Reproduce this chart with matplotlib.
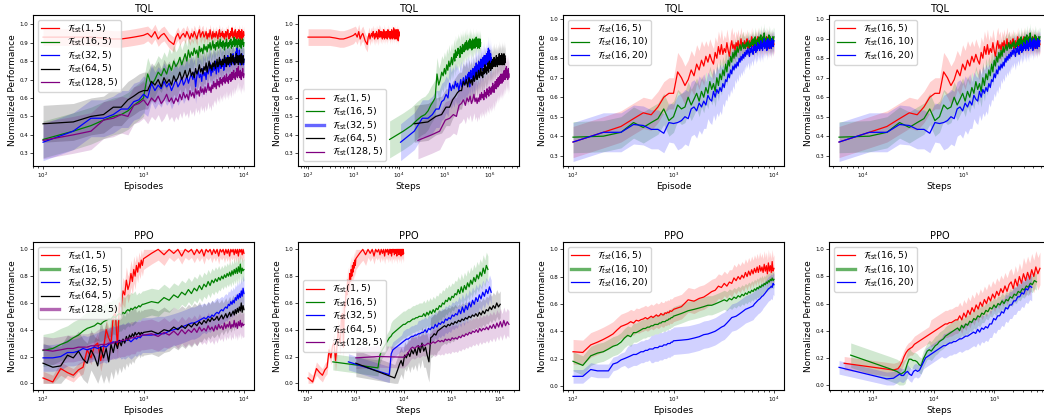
import numpy as np
import matplotlib.pyplot as plt

# evaluation grids (episodes)
ep_tql = np.arange(100, 10001, 100)
ep_ppo = np.concatenate([np.arange(100, 1001, 25), np.arange(1200, 10001, 200)])

# ---------------- TQL, test-set size sweep (episodes) ----------------
tql_r1 = [
    0.93, 0.93, 0.93, 0.925, 0.92, 0.92, 0.925, 0.93, 0.935, 0.94,
    0.95, 0.93, 0.96, 0.92, 0.94, 0.95, 0.93, 0.91, 0.90, 0.89,
    0.93, 0.95, 0.92, 0.94, 0.95, 0.93, 0.96, 0.94, 0.92, 0.95,
    0.93, 0.96, 0.94, 0.92, 0.95, 0.97, 0.93, 0.95, 0.96, 0.93,
    0.94, 0.96, 0.92, 0.95, 0.93, 0.97, 0.94, 0.92, 0.96, 0.93,
    0.95, 0.93, 0.96, 0.94, 0.92, 0.95, 0.97, 0.93, 0.95, 0.94,
    0.96, 0.93, 0.95, 0.92, 0.94, 0.96, 0.93, 0.95, 0.97, 0.94,
    0.92, 0.95, 0.93, 0.96, 0.94, 0.98, 0.93, 0.95, 0.92, 0.96,
    0.94, 0.97, 0.93, 0.95, 0.92, 0.96, 0.94, 0.93, 0.97, 0.95,
    0.92, 0.96, 0.94, 0.93, 0.97, 0.91, 0.95, 0.93, 0.96, 0.94]
tql_g16 = [
    0.375, 0.42, 0.45, 0.48, 0.50, 0.51, 0.53, 0.56, 0.58, 0.60,
    0.73, 0.67, 0.70, 0.74, 0.72, 0.76, 0.73, 0.78, 0.75, 0.80,
    0.77, 0.79, 0.82, 0.78, 0.81, 0.84, 0.80, 0.86, 0.82, 0.85,
    0.83, 0.87, 0.84, 0.86, 0.82, 0.88, 0.85, 0.87, 0.84, 0.89,
    0.86, 0.88, 0.85, 0.89, 0.87, 0.90, 0.86, 0.88, 0.91, 0.87,
    0.89, 0.86, 0.90, 0.88, 0.91, 0.87, 0.89, 0.92, 0.88, 0.90,
    0.87, 0.91, 0.89, 0.86, 0.90, 0.88, 0.92, 0.89, 0.87, 0.90,
    0.88, 0.91, 0.89, 0.92, 0.87, 0.90, 0.88, 0.91, 0.89, 0.93,
    0.88, 0.90, 0.92, 0.89, 0.91, 0.87, 0.90, 0.92, 0.89, 0.91,
    0.88, 0.92, 0.90, 0.87, 0.91, 0.89, 0.92, 0.90, 0.88, 0.90]
tql_b32 = [
    0.36, 0.42, 0.49, 0.49, 0.51, 0.54, 0.54, 0.58, 0.59, 0.62,
    0.60, 0.68, 0.64, 0.67, 0.65, 0.69, 0.66, 0.68, 0.64, 0.67,
    0.70, 0.66, 0.68, 0.71, 0.67, 0.69, 0.72, 0.68, 0.71, 0.73,
    0.70, 0.74, 0.66, 0.72, 0.75, 0.71, 0.73, 0.69, 0.76, 0.72,
    0.74, 0.70, 0.77, 0.73, 0.75, 0.79, 0.72, 0.76, 0.74, 0.78,
    0.75, 0.80, 0.73, 0.77, 0.79, 0.74, 0.78, 0.81, 0.76, 0.79,
    0.77, 0.81, 0.75, 0.79, 0.82, 0.77, 0.80, 0.78, 0.83, 0.79,
    0.81, 0.77, 0.80, 0.83, 0.78, 0.82, 0.79, 0.84, 0.80, 0.78,
    0.82, 0.79, 0.85, 0.81, 0.87, 0.80, 0.83, 0.79, 0.82, 0.86,
    0.81, 0.78, 0.83, 0.80, 0.84, 0.79, 0.82, 0.80, 0.78, 0.81]
tql_k64 = [
    0.46, 0.47, 0.50, 0.51, 0.55, 0.55, 0.59, 0.61, 0.63, 0.64,
    0.64, 0.69, 0.67, 0.70, 0.66, 0.71, 0.68, 0.70, 0.67, 0.72,
    0.69, 0.71, 0.74, 0.70, 0.72, 0.75, 0.71, 0.73, 0.76, 0.72,
    0.74, 0.71, 0.76, 0.73, 0.75, 0.78, 0.74, 0.76, 0.73, 0.77,
    0.75, 0.79, 0.74, 0.77, 0.80, 0.76, 0.78, 0.75, 0.79, 0.77,
    0.80, 0.76, 0.78, 0.81, 0.77, 0.79, 0.82, 0.78, 0.80, 0.77,
    0.81, 0.78, 0.80, 0.83, 0.79, 0.81, 0.77, 0.82, 0.80, 0.78,
    0.82, 0.79, 0.81, 0.84, 0.78, 0.82, 0.80, 0.83, 0.79, 0.81,
    0.78, 0.82, 0.80, 0.84, 0.79, 0.81, 0.83, 0.78, 0.82, 0.80,
    0.83, 0.79, 0.81, 0.84, 0.78, 0.82, 0.80, 0.83, 0.79, 0.81]
tql_p128 = [
    0.37, 0.40, 0.42, 0.48, 0.49, 0.51, 0.50, 0.56, 0.57, 0.59,
    0.56, 0.60, 0.58, 0.61, 0.57, 0.59, 0.62, 0.58, 0.60, 0.57,
    0.60, 0.58, 0.62, 0.59, 0.63, 0.60, 0.62, 0.59, 0.64, 0.61,
    0.63, 0.60, 0.65, 0.62, 0.64, 0.61, 0.66, 0.63, 0.65, 0.62,
    0.66, 0.63, 0.65, 0.68, 0.64, 0.66, 0.63, 0.67, 0.65, 0.69,
    0.66, 0.68, 0.65, 0.70, 0.67, 0.69, 0.66, 0.71, 0.68, 0.70,
    0.67, 0.71, 0.69, 0.72, 0.68, 0.70, 0.73, 0.69, 0.71, 0.68,
    0.72, 0.70, 0.73, 0.69, 0.71, 0.74, 0.70, 0.72, 0.75, 0.71,
    0.73, 0.70, 0.74, 0.72, 0.76, 0.71, 0.73, 0.77, 0.72, 0.74,
    0.71, 0.75, 0.73, 0.70, 0.74, 0.72, 0.76, 0.73, 0.71, 0.73]
tql_size_sd = [
    [0.045, 0.04, 0.035, 0.035, 0.03, 0.03, 0.03, 0.03, 0.03, 0.03],
    [0.10, 0.09, 0.08, 0.08, 0.07, 0.06, 0.06, 0.05, 0.05, 0.05],
    [0.10, 0.10, 0.10, 0.09, 0.09, 0.08, 0.08, 0.07, 0.07, 0.07],
    [0.10, 0.10, 0.09, 0.09, 0.08, 0.08, 0.07, 0.07, 0.07, 0.07],
    [0.10, 0.10, 0.10, 0.10, 0.10, 0.09, 0.09, 0.09, 0.08, 0.08]]
size_labels = [(1, 5), (16, 5), (32, 5), (64, 5), (128, 5)]
size_steps_per_ep = [1, 62, 108, 215, 260]

# ---------------- TQL, episode-length sweep ----------------
tql_l5 = [
    0.37, 0.42, 0.45, 0.49, 0.52, 0.51, 0.55, 0.60, 0.62, 0.62,
    0.73, 0.70, 0.66, 0.69, 0.74, 0.71, 0.77, 0.74, 0.79, 0.76,
    0.81, 0.78, 0.82, 0.79, 0.77, 0.83, 0.80, 0.86, 0.82, 0.87,
    0.82, 0.85, 0.83, 0.88, 0.84, 0.81, 0.86, 0.89, 0.85, 0.87,
    0.84, 0.88, 0.86, 0.89, 0.85, 0.87, 0.90, 0.86, 0.88, 0.85,
    0.89, 0.86, 0.88, 0.90, 0.85, 0.87, 0.89, 0.86, 0.88, 0.91,
    0.86, 0.88, 0.85, 0.89, 0.87, 0.90, 0.86, 0.88, 0.91, 0.87,
    0.89, 0.86, 0.90, 0.88, 0.85, 0.89, 0.87, 0.91, 0.88, 0.86,
    0.90, 0.87, 0.89, 0.86, 0.91, 0.88, 0.85, 0.89, 0.87, 0.90,
    0.86, 0.89, 0.88, 0.85, 0.90, 0.87, 0.89, 0.86, 0.88, 0.87]
tql_l10 = [
    0.395, 0.40, 0.42, 0.47, 0.445, 0.47, 0.49, 0.54, 0.48, 0.50,
    0.56, 0.54, 0.55, 0.60, 0.56, 0.59, 0.62, 0.58, 0.63, 0.60,
    0.65, 0.62, 0.68, 0.64, 0.67, 0.63, 0.70, 0.66, 0.72, 0.69,
    0.74, 0.71, 0.77, 0.73, 0.79, 0.76, 0.81, 0.78, 0.83, 0.80,
    0.84, 0.81, 0.86, 0.83, 0.85, 0.87, 0.84, 0.86, 0.88, 0.85,
    0.87, 0.85, 0.88, 0.86, 0.89, 0.87, 0.85, 0.88, 0.86, 0.89,
    0.87, 0.90, 0.86, 0.88, 0.91, 0.87, 0.89, 0.86, 0.90, 0.88,
    0.91, 0.87, 0.89, 0.92, 0.88, 0.90, 0.87, 0.91, 0.89, 0.93,
    0.88, 0.90, 0.87, 0.91, 0.89, 0.86, 0.90, 0.88, 0.92, 0.89,
    0.87, 0.91, 0.88, 0.90, 0.86, 0.89, 0.91, 0.88, 0.90, 0.91]
tql_l20 = [
    0.37, 0.42, 0.42, 0.46, 0.455, 0.435, 0.435, 0.415, 0.47, 0.465,
    0.47, 0.48, 0.50, 0.49, 0.54, 0.55, 0.53, 0.57, 0.55, 0.58,
    0.56, 0.61, 0.59, 0.58, 0.63, 0.60, 0.64, 0.62, 0.65, 0.63,
    0.67, 0.65, 0.69, 0.68, 0.72, 0.70, 0.74, 0.72, 0.76, 0.74,
    0.77, 0.75, 0.78, 0.76, 0.80, 0.78, 0.81, 0.79, 0.82, 0.80,
    0.83, 0.81, 0.84, 0.82, 0.85, 0.83, 0.81, 0.85, 0.83, 0.86,
    0.84, 0.82, 0.86, 0.84, 0.87, 0.83, 0.86, 0.84, 0.88, 0.85,
    0.87, 0.84, 0.86, 0.89, 0.85, 0.87, 0.84, 0.88, 0.86, 0.90,
    0.85, 0.88, 0.86, 0.89, 0.84, 0.87, 0.90, 0.86, 0.88, 0.85,
    0.89, 0.86, 0.88, 0.85, 0.90, 0.87, 0.89, 0.86, 0.88, 0.89]
tql_len_sd = [
    [0.08, 0.10, 0.08, 0.07, 0.06, 0.05, 0.05, 0.05, 0.05, 0.05],
    [0.08, 0.08, 0.08, 0.07, 0.06, 0.05, 0.05, 0.05, 0.05, 0.05],
    [0.10, 0.14, 0.12, 0.10, 0.08, 0.07, 0.06, 0.06, 0.05, 0.05]]
len_labels = [(16, 5), (16, 10), (16, 20)]
len_steps_per_ep = 58

# ---------------- PPO, test-set size sweep (episodes) ----------------
ppo_r1 = [
    0.04, 0.01, 0.11, 0.08, 0.06, 0.10, 0.12, 0.25, 0.19, 0.28, 0.30, 0.17, 0.26,
    0.40, 0.34, 0.30, 0.50, 0.52, 0.27, 0.60, 0.57, 0.69, 0.66, 0.77, 0.70, 0.74,
    0.82, 0.76, 0.85, 0.80, 0.88, 0.83, 0.90, 0.86, 0.92, 0.88, 0.93,
    0.97, 1.0, 0.96, 1.0, 0.97, 1.0, 0.95, 1.0, 0.98, 1.0, 0.96, 1.0, 0.97, 1.0, 0.95,
    1.0, 0.98, 1.0, 0.96, 1.0, 0.97, 1.0, 0.95, 1.0, 0.98, 1.0, 0.96, 1.0, 0.97, 1.0,
    0.95, 1.0, 0.98, 1.0, 0.96, 1.0, 0.97, 1.0, 0.95, 1.0, 0.98, 1.0, 0.96, 1.0, 0.97]
ppo_g16 = [
    0.245, 0.26, 0.29, 0.31, 0.34, 0.36, 0.39, 0.41, 0.42, 0.43, 0.45, 0.44, 0.46,
    0.47, 0.48, 0.48, 0.50, 0.49, 0.51, 0.52, 0.51, 0.53, 0.52, 0.54, 0.55, 0.54,
    0.56, 0.55, 0.56, 0.57, 0.56, 0.57, 0.58, 0.57, 0.58, 0.59, 0.59,
    0.61, 0.60, 0.64, 0.62, 0.66, 0.64, 0.68, 0.66, 0.70, 0.67, 0.71, 0.69, 0.73,
    0.70, 0.74, 0.72, 0.76, 0.73, 0.77, 0.75, 0.78, 0.76, 0.79, 0.77, 0.80, 0.78,
    0.81, 0.79, 0.82, 0.80, 0.83, 0.80, 0.84, 0.81, 0.85, 0.82, 0.86, 0.82, 0.87,
    0.83, 0.89, 0.82, 0.86, 0.84, 0.85]
ppo_b32 = [
    0.19, 0.19, 0.20, 0.23, 0.23, 0.24, 0.26, 0.25, 0.26, 0.27, 0.26, 0.27, 0.28,
    0.27, 0.29, 0.30, 0.31, 0.30, 0.31, 0.32, 0.31, 0.32, 0.31, 0.32, 0.33, 0.32,
    0.31, 0.32, 0.33, 0.34, 0.33, 0.34, 0.35, 0.34, 0.35, 0.36, 0.36,
    0.36, 0.37, 0.37, 0.39, 0.40, 0.41, 0.42, 0.43, 0.44, 0.45, 0.45, 0.46, 0.47,
    0.48, 0.49, 0.48, 0.50, 0.49, 0.51, 0.50, 0.52, 0.53, 0.52, 0.54, 0.55, 0.54,
    0.56, 0.57, 0.56, 0.59, 0.58, 0.61, 0.59, 0.62, 0.60, 0.64, 0.62, 0.66, 0.63,
    0.67, 0.64, 0.69, 0.65, 0.71, 0.67]
ppo_k64 = [
    0.15, 0.12, 0.13, 0.21, 0.19, 0.24, 0.18, 0.15, 0.25, 0.20, 0.13, 0.27, 0.19,
    0.26, 0.16, 0.29, 0.23, 0.31, 0.26, 0.32, 0.28, 0.33, 0.30, 0.35, 0.32, 0.36,
    0.34, 0.37, 0.35, 0.38, 0.36, 0.37, 0.38, 0.36, 0.38, 0.37, 0.38,
    0.39, 0.37, 0.40, 0.39, 0.42, 0.40, 0.43, 0.41, 0.44, 0.42, 0.45, 0.43, 0.46,
    0.44, 0.47, 0.45, 0.48, 0.46, 0.49, 0.47, 0.48, 0.50, 0.47, 0.49, 0.51, 0.48,
    0.50, 0.52, 0.49, 0.51, 0.53, 0.50, 0.52, 0.54, 0.51, 0.55, 0.52, 0.56, 0.53,
    0.57, 0.54, 0.60, 0.53, 0.58, 0.55]
ppo_p128 = [
    0.25, 0.24, 0.25, 0.26, 0.26, 0.27, 0.27, 0.27, 0.28, 0.28, 0.28, 0.29, 0.29,
    0.29, 0.30, 0.30, 0.30, 0.31, 0.31, 0.31, 0.32, 0.32, 0.32, 0.33, 0.33, 0.33,
    0.34, 0.34, 0.34, 0.34, 0.35, 0.35, 0.35, 0.35, 0.36, 0.36, 0.36,
    0.37, 0.35, 0.38, 0.36, 0.39, 0.36, 0.40, 0.37, 0.40, 0.38, 0.41, 0.38, 0.42,
    0.39, 0.41, 0.39, 0.43, 0.40, 0.42, 0.39, 0.43, 0.40, 0.44, 0.41, 0.43, 0.40,
    0.45, 0.41, 0.44, 0.42, 0.46, 0.41, 0.44, 0.42, 0.47, 0.42, 0.45, 0.41, 0.46,
    0.43, 0.47, 0.42, 0.45, 0.43, 0.44]
ppo_size_sd = [
    [0.05, 0.08, 0.10, 0.08, 0.06, 0.06, 0.06, 0.06, 0.06],
    [0.12, 0.13, 0.12, 0.10, 0.09, 0.09, 0.08, 0.08, 0.08],
    [0.10, 0.12, 0.13, 0.13, 0.12, 0.11, 0.10, 0.10, 0.10],
    [0.15, 0.20, 0.20, 0.17, 0.15, 0.13, 0.12, 0.12, 0.12],
    [0.10, 0.12, 0.12, 0.11, 0.10, 0.10, 0.09, 0.09, 0.09]]

# ---------------- PPO, test-set size sweep (steps) ----------------
# the (1,5) curve is shared with the episode panel
ppo_st_g16_x = [330, 2900]
ppo_st_g16_span = (3200, 5.8e5, 70)
ppo_st_g16 = [
    0.16, 0.115,
    0.21, 0.24, 0.26, 0.28, 0.30, 0.32, 0.34, 0.35, 0.37, 0.38, 0.39, 0.40, 0.41,
    0.42, 0.43, 0.44, 0.44, 0.45, 0.46, 0.46, 0.47, 0.48, 0.48, 0.49, 0.49, 0.50,
    0.50, 0.50, 0.52, 0.50, 0.53, 0.51, 0.54, 0.52, 0.55, 0.53, 0.56, 0.55, 0.58,
    0.57, 0.60, 0.59, 0.62, 0.61, 0.64, 0.62, 0.65, 0.64, 0.67, 0.66, 0.70, 0.67,
    0.72, 0.68, 0.73, 0.70, 0.75, 0.72, 0.77, 0.74, 0.79, 0.76, 0.81, 0.78, 0.83,
    0.80, 0.86, 0.82, 0.88, 0.85]
ppo_st_b32_x = [700, 5000]
ppo_st_b32_span = (5500, 6.8e5, 60)
ppo_st_b32 = [
    0.16, 0.065,
    0.22, 0.25, 0.26, 0.27, 0.28, 0.29, 0.30, 0.31, 0.32, 0.33, 0.33, 0.34, 0.35,
    0.35, 0.36, 0.36, 0.37, 0.37, 0.38, 0.38, 0.40, 0.38, 0.41, 0.40, 0.42, 0.41,
    0.44, 0.42, 0.45, 0.44, 0.46, 0.45, 0.48, 0.47, 0.49, 0.48, 0.51, 0.50, 0.52,
    0.51, 0.55, 0.52, 0.57, 0.53, 0.58, 0.55, 0.60, 0.57, 0.62, 0.59, 0.64, 0.61,
    0.66, 0.63, 0.68, 0.65, 0.70, 0.67, 0.72, 0.68]
ppo_st_k64_x = [1000, 6500]
ppo_st_k64_span = (7500, 1.05e6, 60)
ppo_st_k64 = [
    0.15, 0.04,
    0.10, 0.14, 0.17, 0.13, 0.21, 0.19, 0.23, 0.20, 0.25, 0.22, 0.26, 0.21, 0.28,
    0.23, 0.30, 0.24, 0.27, 0.21, 0.16, 0.34, 0.35, 0.37, 0.36, 0.39, 0.40, 0.41,
    0.42, 0.43, 0.42, 0.44, 0.43, 0.45, 0.44, 0.46, 0.45, 0.47, 0.46, 0.48, 0.47,
    0.49, 0.48, 0.50, 0.49, 0.51, 0.50, 0.52, 0.50, 0.53, 0.51, 0.54, 0.52, 0.55,
    0.54, 0.57, 0.55, 0.58, 0.56, 0.60, 0.57, 0.59]
ppo_st_p128_x = [1000, 3000, 10000]
ppo_st_p128_span = (1.2e4, 1.6e6, 60)
ppo_st_p128 = [
    0.19, 0.20, 0.195,
    0.22, 0.24, 0.26, 0.27, 0.26, 0.27, 0.28, 0.27, 0.28, 0.29, 0.28, 0.29, 0.30,
    0.29, 0.30, 0.31, 0.30, 0.31, 0.32, 0.31, 0.32, 0.31, 0.33, 0.32, 0.33, 0.32,
    0.34, 0.33, 0.34, 0.33, 0.35, 0.34, 0.36, 0.35, 0.37, 0.36, 0.38, 0.37, 0.39,
    0.38, 0.40, 0.38, 0.41, 0.39, 0.41, 0.40, 0.42, 0.40, 0.43, 0.41, 0.44, 0.41,
    0.45, 0.42, 0.46, 0.42, 0.47, 0.43, 0.46, 0.44]
ppo_st_size_sd = [
    [0.06, 0.10, 0.10, 0.10, 0.10, 0.10, 0.10, 0.10],
    [0.06, 0.08, 0.10, 0.10, 0.10, 0.10, 0.09],
    [0.10, 0.12, 0.15, 0.13, 0.12, 0.10, 0.10],
    [0.08, 0.08, 0.10, 0.10, 0.10, 0.10, 0.10]]

# ---------------- PPO, episode-length sweep (episodes) ----------------
ppo_l5 = [
    0.25, 0.245, 0.30, 0.32, 0.34, 0.36, 0.38, 0.41, 0.435, 0.445, 0.455, 0.47, 0.46,
    0.48, 0.475, 0.485, 0.49, 0.50, 0.49, 0.50, 0.51, 0.50, 0.51, 0.52, 0.51, 0.515,
    0.53, 0.52, 0.52, 0.535, 0.53, 0.54, 0.535, 0.55, 0.545, 0.55, 0.56,
    0.58, 0.63, 0.62, 0.64, 0.65, 0.67, 0.69, 0.70, 0.73, 0.72, 0.75, 0.73, 0.76,
    0.75, 0.79, 0.77, 0.80, 0.78, 0.81, 0.79, 0.83, 0.80, 0.84, 0.81, 0.85, 0.82,
    0.86, 0.83, 0.87, 0.83, 0.88, 0.84, 0.87, 0.83, 0.89, 0.84, 0.88, 0.82, 0.90,
    0.84, 0.88, 0.83, 0.91, 0.84, 0.86]
ppo_l10 = [
    0.18, 0.15, 0.22, 0.24, 0.25, 0.27, 0.29, 0.30, 0.32, 0.35, 0.37, 0.36, 0.39,
    0.39, 0.40, 0.41, 0.42, 0.42, 0.43, 0.43, 0.44, 0.44, 0.45, 0.45, 0.45, 0.46,
    0.46, 0.47, 0.47, 0.47, 0.48, 0.48, 0.49, 0.49, 0.50, 0.50, 0.51,
    0.53, 0.55, 0.56, 0.57, 0.58, 0.59, 0.59, 0.60, 0.61, 0.62, 0.63, 0.62, 0.64,
    0.63, 0.65, 0.64, 0.66, 0.65, 0.67, 0.66, 0.68, 0.67, 0.69, 0.68, 0.70, 0.69,
    0.71, 0.70, 0.72, 0.71, 0.73, 0.72, 0.74, 0.73, 0.75, 0.74, 0.76, 0.75, 0.77,
    0.76, 0.78, 0.77, 0.79, 0.77, 0.78]
ppo_l20 = [
    0.07, 0.07, 0.12, 0.11, 0.11, 0.11, 0.16, 0.17, 0.19, 0.20, 0.21, 0.22, 0.23,
    0.23, 0.24, 0.25, 0.25, 0.26, 0.26, 0.27, 0.27, 0.27, 0.28, 0.28, 0.28, 0.29,
    0.29, 0.29, 0.30, 0.30, 0.30, 0.31, 0.31, 0.31, 0.32, 0.32, 0.33,
    0.335, 0.34, 0.35, 0.36, 0.375, 0.38, 0.39, 0.40, 0.415, 0.43, 0.44, 0.46, 0.48,
    0.50, 0.505, 0.51, 0.52, 0.53, 0.54, 0.55, 0.56, 0.565, 0.57, 0.575, 0.58, 0.585,
    0.60, 0.61, 0.62, 0.63, 0.635, 0.645, 0.655, 0.66, 0.67, 0.68, 0.69, 0.70, 0.71,
    0.715, 0.72, 0.73, 0.72, 0.75, 0.74]
ppo_len_sd = [
    [0.09, 0.09, 0.09, 0.09, 0.09, 0.10, 0.10, 0.10, 0.10],
    [0.07, 0.07, 0.07, 0.07, 0.07, 0.07, 0.07, 0.06, 0.06],
    [0.05, 0.08, 0.10, 0.10, 0.10, 0.10, 0.10, 0.09, 0.08]]

# ---------------- PPO, episode-length sweep (steps) ----------------
ppo_st_l5_x = [340, 2200]
ppo_st_l5_span = (2600, 5.6e5, 70)
ppo_st_l5 = [
    0.16, 0.11,
    0.12, 0.14, 0.17, 0.21, 0.24, 0.26, 0.27, 0.28, 0.30, 0.31, 0.32, 0.33, 0.34,
    0.35, 0.36, 0.37, 0.38, 0.39, 0.40, 0.41, 0.42, 0.43, 0.44, 0.45, 0.45, 0.46,
    0.46, 0.47, 0.48, 0.48, 0.51, 0.48, 0.53, 0.50, 0.55, 0.52, 0.57, 0.54, 0.59,
    0.56, 0.61, 0.58, 0.63, 0.60, 0.65, 0.62, 0.67, 0.64, 0.69, 0.66, 0.71, 0.68,
    0.73, 0.69, 0.74, 0.76, 0.71, 0.78, 0.73, 0.80, 0.75, 0.82, 0.77, 0.83, 0.78,
    0.85, 0.80, 0.87, 0.82, 0.86]
ppo_st_l10_x = [435, 1900]
ppo_st_l10_span = (2500, 4.9e5, 70)
ppo_st_l10 = [
    0.22, 0.12,
    0.10, 0.09, 0.08, 0.09, 0.10, 0.15, 0.19, 0.19, 0.18, 0.18, 0.17, 0.15, 0.14,
    0.19, 0.22, 0.25, 0.26, 0.25, 0.27, 0.29, 0.30, 0.32, 0.33, 0.34, 0.36, 0.37,
    0.38, 0.39, 0.40, 0.41, 0.42, 0.40, 0.44, 0.42, 0.45, 0.44, 0.47, 0.46, 0.49,
    0.48, 0.51, 0.50, 0.53, 0.52, 0.55, 0.54, 0.57, 0.56, 0.59, 0.57, 0.60, 0.59,
    0.62, 0.60, 0.63, 0.62, 0.65, 0.64, 0.67, 0.66, 0.69, 0.68, 0.71, 0.70, 0.73,
    0.72, 0.75, 0.74, 0.77, 0.76]
ppo_st_l20_x = [280, 1700]
ppo_st_l20_span = (2200, 4.1e5, 70)
ppo_st_l20 = [
    0.13, 0.045,
    0.05, 0.06, 0.07, 0.08, 0.07, 0.07, 0.09, 0.10, 0.08, 0.07, 0.10, 0.11, 0.10,
    0.11, 0.14, 0.17, 0.20, 0.21, 0.22, 0.23, 0.24, 0.25, 0.26, 0.27, 0.28, 0.29,
    0.29, 0.30, 0.31, 0.31, 0.32, 0.32, 0.33, 0.34, 0.34, 0.35, 0.36, 0.36, 0.37,
    0.38, 0.39, 0.38, 0.41, 0.39, 0.42, 0.41, 0.43, 0.42, 0.45, 0.45, 0.49, 0.48,
    0.51, 0.51, 0.54, 0.53, 0.57, 0.56, 0.59, 0.59, 0.62, 0.62, 0.65, 0.65, 0.68,
    0.67, 0.71, 0.70, 0.73, 0.72]
ppo_st_len_sd = [
    [0.05, 0.06, 0.10, 0.10, 0.10, 0.10, 0.10, 0.12],
    [0.09, 0.06, 0.07, 0.07, 0.07, 0.06, 0.06, 0.06],
    [0.05, 0.05, 0.07, 0.09, 0.10, 0.10, 0.10, 0.10]]

size_colors = ['red', 'green', 'blue', 'black', 'purple']
len_colors = ['red', 'green', 'blue']


def spread(sd, n):
    r = -(-n // len(sd))
    return np.repeat(sd, r)[:n]


def curve(ax, x, y, sd, color, label):
    y = np.asarray(y, float)
    s = spread(sd, len(y))
    ax.fill_between(x, np.clip(y - s, 0, 1), np.clip(y + s, 0, 1),
                    color=color, alpha=0.18, lw=0)
    ax.plot(x, y, color=color, lw=0.9, label=label)


def lab(p, italic=False):
    sub = 'tst' if italic else r'\rm tst'
    return r'$\mathcal{T}_{%s}(%d, %d)$' % (sub, p[0], p[1])


fig = plt.figure(figsize=(10.44, 4.15), dpi=100)
lefts = [33, 298, 563, 829]
rows = [(15, 166), (242, 390)]


def make_ax(r, c):
    top, bot = rows[r]
    return fig.add_axes([lefts[c] / 1044, 1 - bot / 415, 221 / 1044, (bot - top) / 415])


def style(ax, title, xlabel, ylim, yticks, loc, thick=()):
    ax.set_xscale('log')
    ax.set_ylim(*ylim)
    ax.set_yticks(yticks)
    ax.set_title(title, fontsize=7, pad=2.5)
    ax.set_xlabel(xlabel, fontsize=6.5, labelpad=1)
    ax.set_ylabel('Normalized Performance', fontsize=6.5, labelpad=2)
    ax.tick_params(which='both', labelsize=4, width=0.5, pad=1.5)
    ax.tick_params(which='major', length=2)
    ax.tick_params(which='minor', length=1.2)
    leg = ax.legend(loc=loc, fontsize=6.8, labelspacing=0.1, borderpad=0.3)
    # a few legend keys are drawn as broad, faded strokes in the original
    for i in thick:
        leg.get_lines()[i].set_linewidth(2.4)
        leg.get_lines()[i].set_alpha(0.6)


tql_size = [tql_r1, tql_g16, tql_b32, tql_k64, tql_p128]
tql_len = [tql_l5, tql_l10, tql_l20]
ppo_size = [ppo_r1, ppo_g16, ppo_b32, ppo_k64, ppo_p128]
ppo_len = [ppo_l5, ppo_l10, ppo_l20]

top_lim, top_ticks = (0.231, 1.05), np.arange(0.3, 1.01, 0.1)
len_lim = (0.247, 1.022)
bot_lim, bot_ticks = (-0.05, 1.055), np.arange(0.0, 1.01, 0.2)

# TQL size, episodes
ax = make_ax(0, 0)
for y, sd, c, p in zip(tql_size, tql_size_sd, size_colors, size_labels):
    curve(ax, ep_tql, y, sd, c, lab(p))
style(ax, 'TQL', 'Episodes', top_lim, top_ticks, 'upper left')

# TQL size, steps
ax = make_ax(0, 1)
for y, sd, c, p, k in zip(tql_size, tql_size_sd, size_colors, size_labels, size_steps_per_ep):
    curve(ax, ep_tql * k, y, sd, c, lab(p))
style(ax, 'TQL', 'Steps', top_lim, top_ticks, 'lower left', thick=(2,))

# TQL length, episodes
ax = make_ax(0, 2)
for y, sd, c, p in zip(tql_len, tql_len_sd, len_colors, len_labels):
    curve(ax, ep_tql, y, sd, c, lab(p, italic=True))
style(ax, 'TQL', 'Episode', len_lim, top_ticks, 'upper left')

# TQL length, steps
ax = make_ax(0, 3)
for y, sd, c, p in zip(tql_len, tql_len_sd, len_colors, len_labels):
    curve(ax, ep_tql * len_steps_per_ep, y, sd, c, lab(p))
style(ax, 'TQL', 'Steps', len_lim, top_ticks, 'upper left')

# PPO size, episodes
ax = make_ax(1, 0)
for y, sd, c, p in zip(ppo_size, ppo_size_sd, size_colors, size_labels):
    curve(ax, ep_ppo, y, sd, c, lab(p))
style(ax, 'PPO', 'Episodes', bot_lim, bot_ticks, 'upper left', thick=(1, 4))

# PPO size, steps
ax = make_ax(1, 1)
curve(ax, ep_ppo, ppo_r1, ppo_size_sd[0], 'red', lab(size_labels[0]))
st_series = [(ppo_st_g16_x, ppo_st_g16_span, ppo_st_g16),
             (ppo_st_b32_x, ppo_st_b32_span, ppo_st_b32),
             (ppo_st_k64_x, ppo_st_k64_span, ppo_st_k64),
             (ppo_st_p128_x, ppo_st_p128_span, ppo_st_p128)]
for (x0, span, y), sd, c, p in zip(st_series, ppo_st_size_sd, size_colors[1:], size_labels[1:]):
    x = np.concatenate([x0, np.geomspace(*span)])
    curve(ax, x, y, sd, c, lab(p))
style(ax, 'PPO', 'Steps', bot_lim, bot_ticks, 'center left')

# PPO length, episodes
ax = make_ax(1, 2)
for y, sd, c, p in zip(ppo_len, ppo_len_sd, len_colors, len_labels):
    curve(ax, ep_ppo, y, sd, c, lab(p, italic=True))
style(ax, 'PPO', 'Episodes', (-0.03, 1.053), bot_ticks, 'upper left', thick=(1,))

# PPO length, steps
ax = make_ax(1, 3)
st_len = [(ppo_st_l5_x, ppo_st_l5_span, ppo_st_l5),
          (ppo_st_l10_x, ppo_st_l10_span, ppo_st_l10),
          (ppo_st_l20_x, ppo_st_l20_span, ppo_st_l20)]
for (x0, span, y), sd, c, p in zip(st_len, ppo_st_len_sd, len_colors, len_labels):
    x = np.concatenate([x0, np.geomspace(*span)])
    curve(ax, x, y, sd, c, lab(p))
style(ax, 'PPO', 'Steps', (-0.037, 1.054), bot_ticks, 'upper left', thick=(1,))

fig.savefig('out.png', dpi=100)
